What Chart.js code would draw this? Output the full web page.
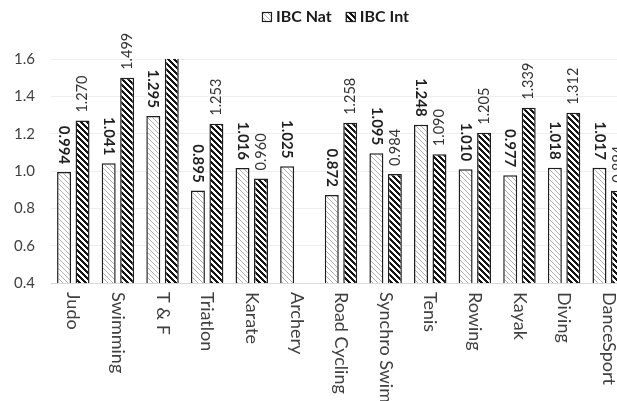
<!DOCTYPE html>
<html><head><meta charset="utf-8">
<script src="https://cdn.jsdelivr.net/npm/chart.js@4.4.1/dist/chart.umd.min.js"></script>
<style>
html,body{margin:0;padding:0;background:#fff;overflow:hidden}
#wrap{width:617px;height:401px;overflow:hidden;position:relative;background:#fff}
canvas{display:block}
</style>
</head><body>
<div id="wrap"><canvas id="c" width="640" height="401"></canvas></div>
<script>
const categories = ['Judo','Swimming','T & F','Triatlon','Karate','Archery','Road Cycling','Synchro Swim','Tenis','Rowing','Kayak','Diving','DanceSport'];
const natValues = [0.994,1.041,1.295,0.895,1.016,1.025,0.872,1.095,1.248,1.010,0.977,1.018,1.017];
const intValues = [1.270,1.499,1.700,1.253,0.960,null,1.258,0.984,1.090,1.205,1.339,1.312,0.894];
const seriesNames = ['IBC Nat','IBC Int'];
const yMin = 0.4, yMax = 1.6, yStep = 0.2;

const canvas = document.getElementById('c');
const ctx = canvas.getContext('2d');

function makePattern(period, onSet, onColor) {
  const c = document.createElement('canvas');
  c.width = period; c.height = period;
  const g = c.getContext('2d');
  const img = g.createImageData(period, period);
  for (let y = 0; y < period; y++) {
    for (let x = 0; x < period; x++) {
      const k = (((x - y) % period) + period) % period;
      const col = onSet.includes(k) ? onColor : [255,255,255];
      const o = (y * period + x) * 4;
      img.data[o] = col[0]; img.data[o+1] = col[1]; img.data[o+2] = col[2]; img.data[o+3] = 255;
    }
  }
  g.putImageData(img, 0, 0);
  return ctx.createPattern(c, 'repeat');
}
const natPattern = makePattern(5, [0], [175,175,175]);
const intPattern = makePattern(6, [0,1,2], [20,20,20]);
const patterns = [natPattern, intPattern];

const overlay = {
  id: 'overlay',
  afterDatasetsDraw(chart) {
    const {ctx, chartArea, scales} = chart;
    const y = scales.y;
    ctx.save();
    ctx.beginPath();
    ctx.rect(0, 28, chart.width, chartArea.bottom - 28);
    ctx.clip();
    chart.data.datasets.forEach((ds, di) => {
      const meta = chart.getDatasetMeta(di);
      meta.data.forEach((bar, i) => {
        const v = ds.data[i];
        if (v == null || v > y.max) return;
        ctx.save();
        ctx.translate(bar.x, bar.y - 8);
        if (di === 0) {
          ctx.rotate(Math.PI / 2);
          ctx.textAlign = 'right';
          ctx.font = 'bold 15px Lato';
          ctx.fillStyle = '#1f1f1f';
        } else {
          ctx.rotate(-Math.PI / 2);
          ctx.textAlign = 'left';
          ctx.font = '14.5px Lato';
          ctx.fillStyle = '#333333';
        }
        ctx.textBaseline = 'middle';
        ctx.fillText(v.toFixed(3), 0, 0);
        ctx.restore();
      });
    });
    ctx.restore();
  },
  afterDraw(chart) {
    const {ctx, chartArea, scales} = chart;
    const x = scales.x;
    ctx.save();
    ctx.font = '18px Lato';
    ctx.fillStyle = '#404040';
    ctx.textBaseline = 'middle';
    ctx.textAlign = 'left';
    chart.data.labels.forEach((lab, i) => {
      const px = x.getPixelForTick(i);
      ctx.save();
      ctx.translate(px, chartArea.bottom + 9);
      ctx.rotate(Math.PI / 2);
      ctx.fillText(lab, 0, 0);
      ctx.restore();
    });
    ctx.restore();
    // legend
    ctx.save();
    ctx.font = 'bold 16px Lato';
    ctx.textBaseline = 'middle';
    ctx.textAlign = 'left';
    const box = 10, gapBT = 4, gapItems = 14, cy = 17, centerX = 335.5;
    const items = chart.data.datasets.map((ds, di) => ({label: ds.label, fill: patterns[di], w: ctx.measureText(ds.label).width}));
    let total = 0;
    items.forEach((it, k) => { total += box + gapBT + it.w + (k < items.length - 1 ? gapItems : 0); });
    let cx = centerX - total / 2;
    items.forEach(it => {
      ctx.fillStyle = it.fill;
      ctx.fillRect(cx, cy - box / 2, box, box);
      ctx.strokeStyle = '#1e1e1e';
      ctx.lineWidth = 1.2;
      ctx.strokeRect(cx + 0.5, cy - box / 2 + 0.5, box - 1, box - 1);
      ctx.fillStyle = '#1a1a1a';
      ctx.fillText(it.label, cx + box + gapBT, cy);
      cx += box + gapBT + it.w + gapItems;
    });
    ctx.restore();
  }
};

new Chart(ctx, {
  type: 'bar',
  data: {
    labels: categories,
    datasets: [
      {label: seriesNames[0], data: natValues, backgroundColor: natPattern, borderColor: '#1e1e1e', borderWidth: 1.5},
      {label: seriesNames[1], data: intValues, backgroundColor: intPattern, borderColor: '#1e1e1e', borderWidth: 1.5}
    ]
  },
  options: {
    responsive: false,
    animation: false,
    devicePixelRatio: 1,
    layout: {padding: {top: 59, right: 9, left: 0, bottom: 0}},
    datasets: {bar: {categoryPercentage: 0.828, barPercentage: 0.757}},
    plugins: {legend: {display: false}, tooltip: {enabled: false}},
    scales: {
      x: {
        grid: {display: false},
        border: {display: false},
        ticks: {display: false},
        afterFit(s) { s.height = 118; }
      },
      y: {
        min: yMin, max: yMax,
        ticks: {stepSize: yStep, padding: 16, font: {family: 'Lato', size: 15}, color: '#404040', callback: v => Number(v).toFixed(1)},
        grid: {drawTicks: false, color: c => Math.abs(c.tick.value - yMin) < 1e-9 ? '#d9d9d9' : '#eeeeee'},
        border: {display: false},
        afterFit(s) { s.width = 51; }
      }
    }
  },
  plugins: [overlay]
});
</script>
</body></html>
